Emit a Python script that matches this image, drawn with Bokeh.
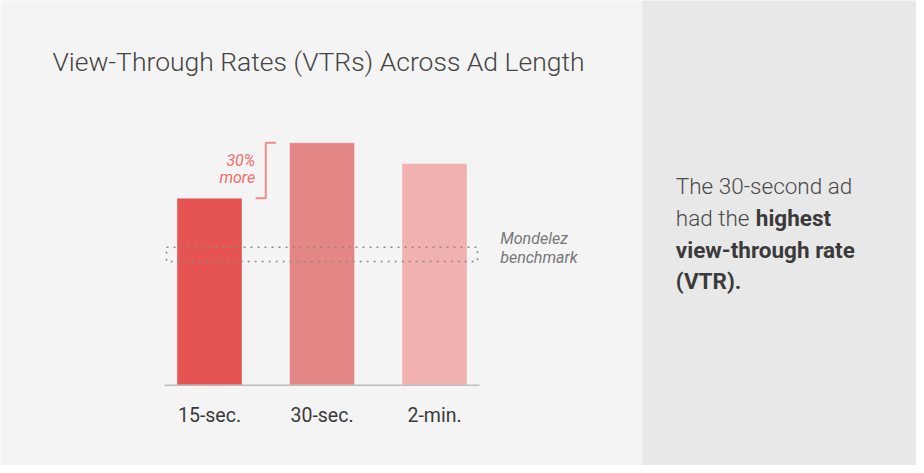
from bokeh.plotting import figure
from bokeh.models import Range1d, Label, ColumnDataSource, BoxAnnotation
from bokeh.core.properties import value
from bokeh.embed import file_html
from bokeh.resources import INLINE

# ---- data ----
categories = ["15-sec.", "30-sec.", "2-min."]
vtr = [54, 70, 64]
bar_colors = ["#e55451", "#e58686", "#f2b1b1"]
benchmark_low = 35.7
benchmark_high = 39.8
uplift_label = ["30%", "more"]
benchmark_label = ["Mondelez", "benchmark"]
title_text = "View-Through Rates (VTRs) Across Ad Length"
takeaway_plain = ["The 30-second ad", "had the"]
takeaway_bold = ["highest", "view-through rate", "(VTR)."]

W, H = 916, 465
LEFT_BG = "#f4f4f4"
RIGHT_BG = "#e8e8e8"

# scale: canvas pixel <-> data units
PX_X, X0 = 112.5, 209.0     # px per category, canvas x of first category
PX_Y, Y0 = 3.463, 384.7     # px per unit, canvas y of baseline


def dx(cx):
    return (cx - X0) / PX_X


def dy(cy):
    return (Y0 - cy) / PX_Y


x = list(range(len(categories)))
src = ColumnDataSource(dict(x=x, top=vtr, color=bar_colors, cat=categories,
                            ly=[dy(415)] * len(categories)))

p = figure(width=W, height=H, x_range=Range1d(dx(0), dx(W)), y_range=Range1d(dy(H), dy(0)),
           output_backend="svg", toolbar_location=None, title=None, min_border=0,
           x_axis_location=None, y_axis_location=None)
p.background_fill_color = LEFT_BG
p.border_fill_color = LEFT_BG
p.outline_line_color = None
p.xgrid.visible = False
p.ygrid.visible = False

# right-hand panel
p.add_layout(BoxAnnotation(left=dx(642), fill_color=RIGHT_BG, fill_alpha=1.0,
                           line_color=None, level="underlay"))

# bars
p.vbar(x="x", top="top", width=0.578, fill_color="color", line_color="white",
       line_alpha=0.35, line_width=1, source=src)

# baseline axis
p.segment(x0=[dx(164)], x1=[dx(479)], y0=[0], y1=[0], line_color="#bdbdbd", line_width=1.5)

# category labels
p.text(x="x", y="ly", text="cat", source=src, text_align="center", text_baseline="middle",
       text_font=value("Roboto"), text_font_size="19.5px", text_color="#3a3a3a")

# benchmark band (dotted box)
p.quad(left=[dx(166)], right=[dx(477)], bottom=[benchmark_low], top=[benchmark_high],
       fill_color=None, line_color="#8a8a8a", line_dash="2 5", line_width=1.5)

# bracket between bar 1 and bar 2
p.line(x=[0.59, 0.5, 0.5, 0.41], y=[vtr[1], vtr[1], vtr[0], vtr[0]],
       line_color="#f08c8b", line_width=2)


def lab(cx, cy, text, font="Roboto", style="normal", size="16px", color="#444444", align="left"):
    p.add_layout(Label(x=dx(cx), y=dy(cy), text=text, text_font=font, text_font_style=style,
                       text_font_size=size, text_color=color, text_align=align,
                       text_baseline="middle"))


lab(52, 61, title_text, font="Roboto Light", size="26.5px", color="#444444")

lab(254.7, 160, uplift_label[0], style="italic", size="16px", color="#ee6d6b", align="right")
lab(254.7, 177, uplift_label[1], style="italic", size="16px", color="#ee6d6b", align="right")

lab(499.7, 238, benchmark_label[0], style="italic", size="16px", color="#777777")
lab(499.7, 257, benchmark_label[1], style="italic", size="16px", color="#777777")

TX = 675.3
lab(TX, 185, takeaway_plain[0], font="Roboto Light", size="22.5px", color="#4a4a4a")
lab(TX, 217, takeaway_plain[1], font="Roboto Light", size="22.5px", color="#4a4a4a")
lab(755.3, 217, takeaway_bold[0], style="bold", size="22.5px", color="#3a3a3a")
lab(TX, 249, takeaway_bold[1], style="bold", size="22.5px", color="#3a3a3a")
lab(TX, 280, takeaway_bold[2], style="bold", size="22.5px", color="#3a3a3a")

open("out.html", "w").write(file_html(p, INLINE))
